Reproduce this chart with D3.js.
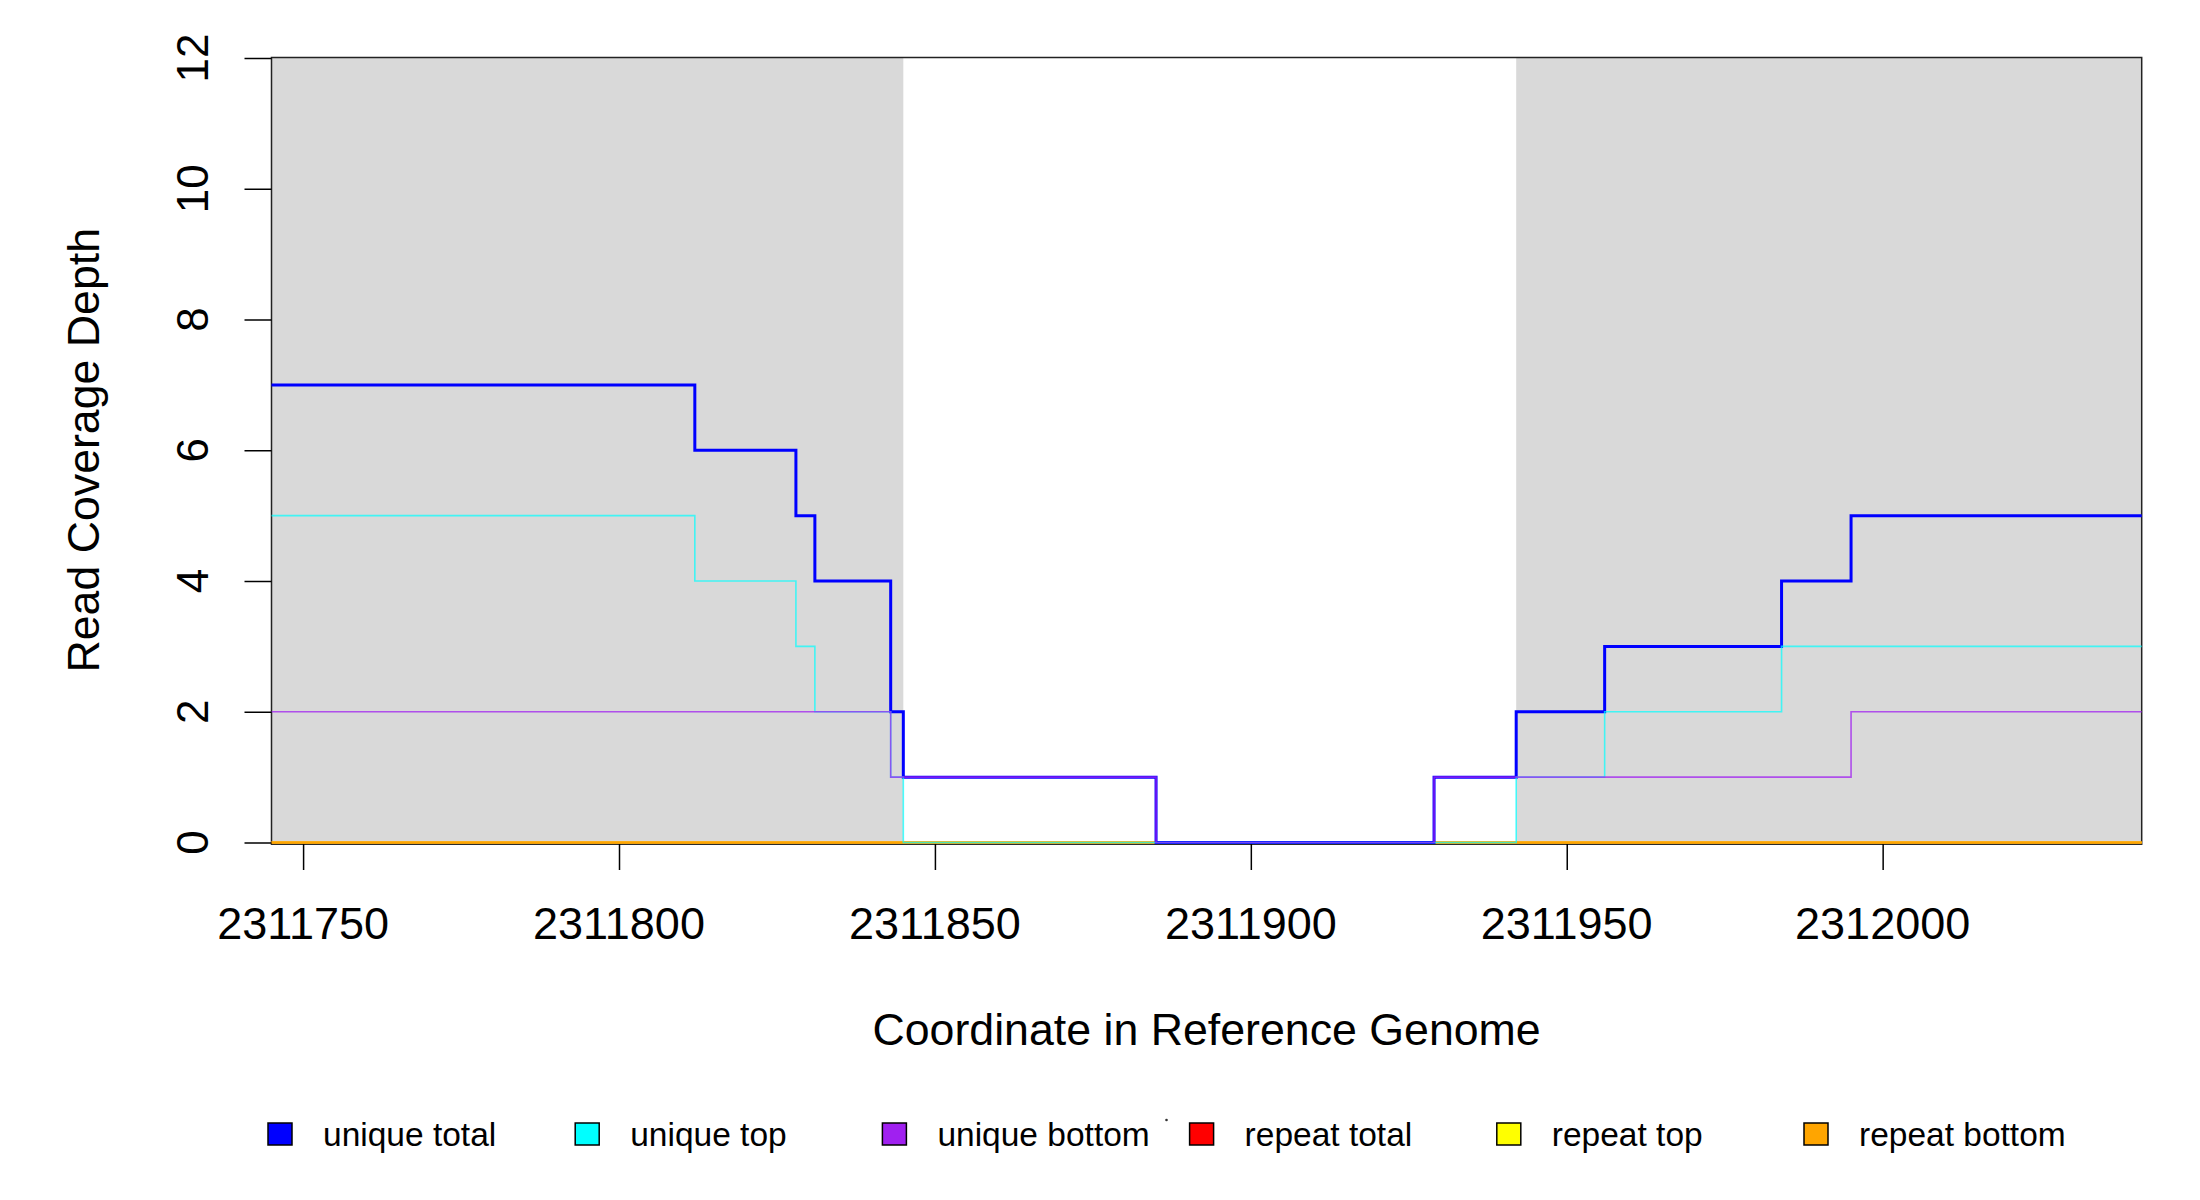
<!DOCTYPE html>
<html>
<head>
<meta charset="utf-8">
<script src="https://cdn.jsdelivr.net/npm/d3@7"></script>
<style>
  html, body { margin: 0; padding: 0; background: #ffffff; }
  svg text { font-family: "Liberation Sans", Arial, Helvetica, sans-serif; fill: #000; }
</style>
</head>
<body>
<svg id="chart" width="2200" height="1200"></svg>
<script>
// ---- data ----
const breakpoints = [2311745, 2311812, 2311828, 2311831, 2311843, 2311845, 2311885, 2311929, 2311942, 2311956, 2311984, 2311995, 2312041];
const uniqueTotal  = [7, 6, 5, 4, 2, 1, 0, 1, 2, 3, 4, 5];
const uniqueTop    = [5, 4, 3, 2, 1, 0, 0, 0, 1, 2, 3, 3];
const uniqueBottom = [2, 2, 2, 2, 1, 1, 0, 1, 1, 1, 1, 2];
const repeatTotal  = [0, 0, 0, 0, 0, 0, 0, 0, 0, 0, 0, 0];
const repeatTop    = [0, 0, 0, 0, 0, 0, 0, 0, 0, 0, 0, 0];
const repeatBottom = [0, 0, 0, 0, 0, 0, 0, 0, 0, 0, 0, 0];
const exonStarts = [2311745, 2311942];
const exonEnds   = [2311845, 2312041];
const xDomain = [2311745, 2312041];
const yDomain = [0, 12];
const xTicks = [2311750, 2311800, 2311850, 2311900, 2311950, 2312000];
const yTicks = [0, 2, 4, 6, 8, 10, 12];
const legendLabels = ["unique total", "unique top", "unique bottom", "repeat total", "repeat top", "repeat bottom"];
const legendColors = ["#0000FF", "#00FFFF", "#A020F0", "#FF0000", "#FFFF00", "#FFA500"];
const xTitle = "Coordinate in Reference Genome";
const yTitle = "Read Coverage Depth";

// ---- layout ----
const svg = d3.select("#chart");
const pLeft = 271.5, pRight = 2141.7, pTop = 58, pBottom = 842.5;
const x = d3.scaleLinear().domain(xDomain).range([pLeft, pRight]);
const y = d3.scaleLinear().domain(yDomain).range([pBottom, pTop]);

// exon shading
svg.append("g").selectAll("rect").data(exonStarts.map((s, i) => [s, exonEnds[i]]))
  .join("rect")
  .attr("x", d => x(d[0])).attr("width", d => x(d[1]) - x(d[0]))
  .attr("y", y(12)).attr("height", y(0) - y(12) + 1.5)
  .attr("fill", "#D9D9D9");

// box
svg.append("rect")
  .attr("x", pLeft).attr("y", pTop - 0.5)
  .attr("width", pRight - pLeft).attr("height", pBottom - pTop + 2.2)
  .attr("fill", "none").attr("stroke", "#222").attr("stroke-width", 1.5);

// coverage step lines
function pts(vals) {
  const p = vals.map((v, i) => [breakpoints[i], v]);
  p.push([breakpoints[breakpoints.length - 1], vals[vals.length - 1]]);
  return p;
}
const line = d3.line().x(d => x(d[0])).y(d => y(d[1])).curve(d3.curveStepAfter);
const series = [
  { v: repeatTotal,  c: legendColors[3], w: 2,   o: 1 },
  { v: repeatTop,    c: legendColors[4], w: 2,   o: 1 },
  { v: repeatBottom, c: legendColors[5], w: 2,   o: 1 },
  { v: uniqueTotal,  c: legendColors[0], w: 3,   o: 1 },
  { v: uniqueTop,    c: legendColors[1], w: 1.6, o: 0.7 },
  { v: uniqueBottom, c: legendColors[2], w: 1.6, o: 0.75 }
];
svg.append("g").selectAll("path").data(series).join("path")
  .attr("d", d => line(pts(d.v)))
  .attr("fill", "none")
  .attr("stroke", d => d.c)
  .attr("stroke-width", d => d.w)
  .attr("stroke-opacity", d => d.o);

// y axis
const yAxis = d3.axisLeft(y).tickValues(yTicks).tickSize(27).tickFormat("");
const gy = svg.append("g").attr("transform", `translate(${pLeft},0)`).call(yAxis);
gy.select(".domain").remove();
gy.selectAll("line").attr("stroke", "#000").attr("stroke-width", 1.5);
svg.append("g").selectAll("text").data(yTicks).join("text")
  .attr("transform", d => `translate(208,${y(d)}) rotate(-90)`)
  .attr("text-anchor", "middle")
  .style("font-size", "44px")
  .text(d => d);

// x axis
const xAxis = d3.axisBottom(x).tickValues(xTicks).tickSize(26).tickFormat("");
const gx = svg.append("g").attr("transform", `translate(0,${pBottom + 1.5})`).call(xAxis);
gx.select(".domain").remove();
gx.selectAll("line").attr("stroke", "#000").attr("stroke-width", 1.5);
svg.append("g").selectAll("text").data(xTicks).join("text")
  .attr("x", d => x(d)).attr("y", 939)
  .attr("text-anchor", "middle")
  .style("font-size", "45px")
  .text(d => d);

// titles
svg.append("text").attr("x", (pLeft + pRight) / 2).attr("y", 1045)
  .attr("text-anchor", "middle").style("font-size", "44.7px").text(xTitle);
svg.append("text").attr("transform", `translate(99,${(pTop + pBottom) / 2}) rotate(-90)`)
  .attr("text-anchor", "middle").style("font-size", "44.7px").text(yTitle);

// legend
const lx = d3.scaleLinear().domain([0, 5]).range([268, 1804]);
const lg = svg.append("g").selectAll("g").data(legendLabels).join("g")
  .attr("transform", (d, i) => `translate(${lx(i)},1134)`);
lg.append("rect").attr("x", 0).attr("y", -11).attr("width", 24).attr("height", 22)
  .attr("fill", (d, i) => legendColors[i]).attr("stroke", "#000").attr("stroke-width", 1.5);
lg.append("text").attr("x", 55).attr("y", 12)
  .style("font-size", "33.5px").text(d => d);
svg.append("circle").attr("cx", 1166.5).attr("cy", 1120).attr("r", 1.3).attr("fill", "#333");
</script>
</body>
</html>
